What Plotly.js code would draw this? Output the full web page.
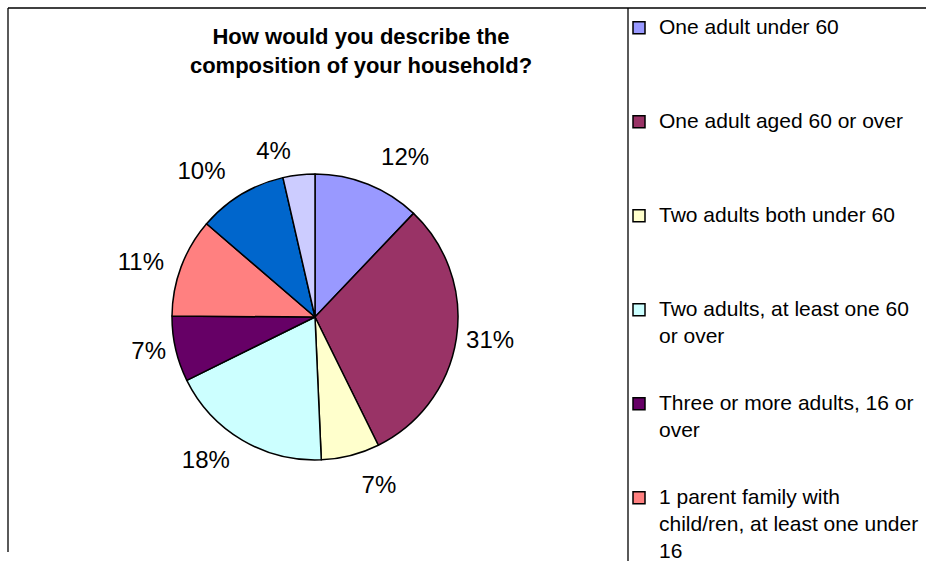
<!DOCTYPE html>
<html>
<head>
<meta charset="utf-8">
<script src="https://cdn.plot.ly/plotly-3.0.1.min.js"></script>
<style>html,body{margin:0;padding:0;background:#fff;}#chart{width:926px;height:561px;}</style>
</head>
<body>
<div id="chart"></div>
<script>
// Data
const categories = [
  "One adult under 60",
  "One adult aged 60 or over",
  "Two adults both under 60",
  "Two adults, at least one 60<br>or over",
  "Three or more adults, 16 or<br>over",
  "1 parent family with<br>child/ren, at least one under<br>16",
  "2 parent family with<br>child/ren, at least one under<br>16",
  "Other"
];
const shares = [12.1, 30.6, 6.6, 18.4, 7.4, 11.2, 10.1, 3.6];
const sliceColors = ["#9999FF", "#993366", "#FFFFCC", "#CCFFFF", "#660066", "#FF8080", "#0066CC", "#CCCCFF"];
const chartTitle = "How would you describe the<br>composition of your household?";

// Legend layout: a tiny base font gives fine-grained line steps so that
// every entry takes the same height as in the reference (evenly spaced).
const BASE = 3.5;          // legend base font size
const STEP = 6;            // base lines between two visible text lines
const LINES_PER_ITEM = 20; // base lines per legend entry
const LEG_FONT = 21;
function legendLabel(name) {
  const parts = name.split("<br>");
  const slots = new Array(LINES_PER_ITEM).fill("");
  parts.forEach((p, i) => {
    slots[1 + i * STEP] = '<span style="font-size:' + LEG_FONT + 'px">' + p + "</span>";
  });
  return slots.join("<br>");
}
const legendLabels = categories.map(legendLabel);

const W = 926, H = 561;
const cx = 315, cy = 317, r = 143;   // pie centre and radius (px)
const FONT = "Liberation Sans, Arial, sans-serif";

function domainFor(rad) {
  return { x: [(cx - rad) / W, (cx + rad) / W], y: [1 - (cy + rad) / H, 1 - (cy - rad) / H] };
}

const pieTrace = {
  type: "pie",
  labels: legendLabels,
  values: shares,
  sort: false,
  direction: "clockwise",
  rotation: 0,
  marker: { colors: sliceColors, line: { color: "#000000", width: 1.5 } },
  textinfo: "none",
  hoverinfo: "none",
  domain: domainFor(r)
};

// Transparent copies of the same pie carry the percentage labels; each copy
// shows a subset of labels at a slightly different label distance.
function labelTrace(showIdx, rad) {
  return {
    type: "pie",
    labels: categories,
    values: shares,
    sort: false,
    direction: "clockwise",
    rotation: 0,
    showlegend: false,
    marker: { colors: sliceColors.map(() => "rgba(0,0,0,0)"), line: { width: 0 } },
    textposition: shares.map((_, i) => showIdx.includes(i) ? "outside" : "none"),
    texttemplate: "%{percent:.0%}",
    outsidetextfont: { family: FONT, size: 24, color: "#000000" },
    hoverinfo: "none",
    domain: domainFor(rad)
  };
}

const lineStyle = { color: "#000000", width: 1.3 };
const layout = {
  width: W, height: H,
  margin: { l: 0, r: 0, t: 0, b: 0, autoexpand: false },
  paper_bgcolor: "#ffffff",
  font: { family: FONT, color: "#000000" },
  title: {
    text: chartTitle,
    font: { family: FONT, size: 22, weight: "bold", color: "#000000" },
    x: 361 / W, xanchor: "center", xref: "paper",
    y: 1 - 44 / H, yanchor: "top", yref: "container"
  },
  showlegend: true,
  legend: {
    x: 619 / W, xanchor: "left",
    y: 1 - 19 / H, yanchor: "top",
    font: { size: BASE, family: FONT, color: "#000000" },
    valign: "top",
    bgcolor: "rgba(0,0,0,0)",
    borderwidth: 0,
    maxheight: 3000
  },
  shapes: [
    { type: "line", xref: "paper", yref: "paper", x0: 8 / W, x1: 1, y0: 1 - 8 / H, y1: 1 - 8 / H, line: lineStyle },
    { type: "line", xref: "paper", yref: "paper", x0: 8 / W, x1: 8 / W, y0: 1 - 8 / H, y1: 1 - 552 / H, line: lineStyle },
    { type: "line", xref: "paper", yref: "paper", x0: 628 / W, x1: 628 / W, y0: 1 - 8 / H, y1: 0, line: lineStyle }
  ]
};

const traces = [
  pieTrace,
  labelTrace([0, 2, 6], 160),   // labels near the top and bottom
  labelTrace([1, 4], 146),      // labels at the sides
  labelTrace([3, 5, 7], 154)    // diagonal labels
];

Plotly.newPlot("chart", traces, layout, { staticPlot: true, displayModeBar: false });
</script>
</body>
</html>
